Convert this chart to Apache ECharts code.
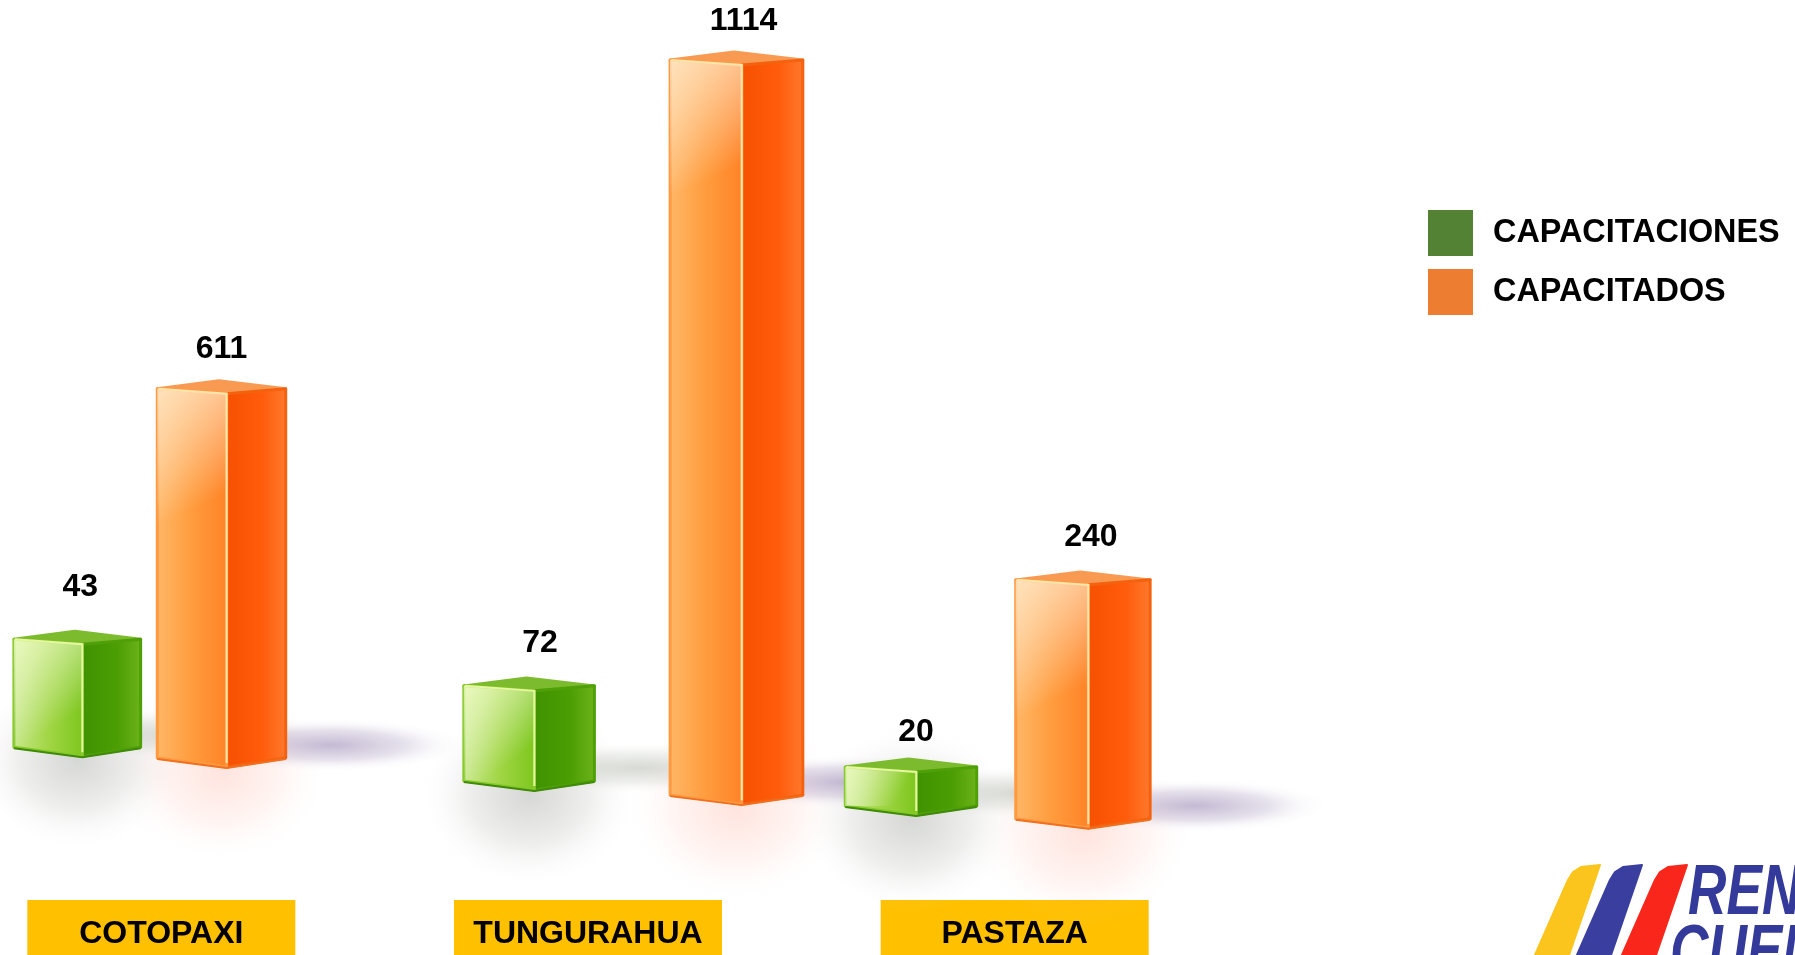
<!DOCTYPE html>
<html lang="es">
<head>
<meta charset="UTF-8">
<title>Capacitaciones y capacitados</title>
<script src="https://cdn.jsdelivr.net/npm/echarts@6/dist/echarts.min.js"></script>
<style>
  html, body { margin: 0; padding: 0; background: #fff; overflow: hidden; }
  #chart { width: 1795px; height: 955px; }
</style>
</head>
<body>
<div id="chart"></div>
<script>
// Printed values
const provinces = ['COTOPAXI', 'TUNGURAHUA', 'PASTAZA'];
const capacitaciones = [43, 72, 20];
const capacitados = [611, 1114, 240];

// The boxes in the picture are perspective art, not to scale: these are the extents
// on a hidden axis where the 1114 box is true to its value
const capacitacionesFloor = [213, 163, 126];
const capacitacionesTop = [398, 329, 209];
const capacitadosFloor = [197, 142, 107];
const capacitadosTop = [769, 1256, 486];

// Layout, as fractions of a category band
const greenShift = [-0.197, -0.138, -0.243];
const orangeShift = [0.141, 0.348, 0.16];
const greenWidth = [0.297, 0.306, 0.308];
const orangeWidth = [0.301, 0.311, 0.315];
const greenLabelGap = [44, 35, 27];
const orangeLabelGap = [32, 31, 35];
const greenLabelShift = [3, 11, 5];
const orangeLabelShift = [0, 7, 8];

const FONT = '"Liberation Sans", Arial, sans-serif';

const linear = (x, y, x2, y2, stops) => ({
  type: 'linear', x, y, x2, y2,
  colorStops: stops.map(([offset, color]) => ({ offset, color }))
});
const soft = (color, fade) => ({
  type: 'radial', x: 0.5, y: 0.5, r: 0.5,
  colorStops: [{ offset: 0, color }, { offset: 0.55, color: fade }, { offset: 1, color: 'rgba(255,255,255,0)' }]
});

const greenLook = {
  top: '#7DBB2E',
  rim: '#E6F7A0',
  edge: '#3F8A08',
  frontLine: '#86C92A',
  sideLine: '#4FA008',
  front: [[0, '#C8E88A'], [0.5, '#A2D646'], [1, '#7CC61C']],
  shine: 'rgba(245,255,205,0.75)',
  side: [[0, '#3F9200'], [0.6, '#4C9E04'], [1, '#6DB41A']],
  glow: soft('rgba(120,125,115,0.30)', 'rgba(120,125,115,0.12)'),
  cast: soft('rgba(110,120,100,0.28)', 'rgba(110,120,100,0.10)')
};
const orangeLook = {
  top: '#F99A52',
  rim: '#FFE6A8',
  edge: '#F0701E',
  frontLine: '#FF9A40',
  sideLine: '#F5620F',
  front: [[0, '#FFB868'], [0.5, '#FF9C3E'], [1, '#FF8226']],
  shine: 'rgba(255,240,215,0.75)',
  side: [[0, '#F65000'], [0.6, '#FF5C0C'], [1, '#FF7A2E']],
  glow: soft('rgba(255,120,90,0.20)', 'rgba(255,120,90,0.08)'),
  cast: soft('rgba(115,90,150,0.42)', 'rgba(115,90,150,0.18)')
};

function boxRenderer(shift, width, labelGap, labelShift, look) {
  return function (params, api) {
    const i = api.value(0);
    const band = api.size([1, 0])[0];
    const floor = api.coord([i, api.value(1)]);
    const top = api.coord([i, api.value(2)]);
    const w = width[i] * band;
    const x0 = floor[0] + shift[i] * band - w / 2;
    const x1 = x0 + w;
    const split = x0 + w * 0.54;
    const mid = x0 + w * 0.48;
    const yTop = top[1];
    const yBottom = floor[1];
    const cornerY = yTop + 8;
    const frontY = yTop + 13;
    const lowY = yBottom - 9;
    const shineBottom = Math.min(cornerY + 150, lowY);

    return {
      type: 'group',
      children: [
        { // faint reflection on the floor
          type: 'circle',
          x: x0 + w / 2,
          y: yBottom + 4,
          scaleY: 0.85,
          shape: { cx: 0, cy: 0, r: w * 0.85 },
          style: { fill: look.glow },
          z2: 1
        },
        { // cast shadow to the right
          type: 'circle',
          x: x1 + 45,
          y: yBottom - 22,
          scaleY: 0.2,
          shape: { cx: 0, cy: 0, r: 135 },
          style: { fill: look.cast },
          z2: 2
        },
        {
          type: 'polygon',
          shape: { points: [[x0, cornerY], [mid, yTop], [x1, cornerY], [split, frontY]] },
          style: { fill: look.top, stroke: look.top, lineWidth: 3, lineJoin: 'round' },
          z2: 10
        },
        {
          type: 'polygon',
          shape: { points: [[split, frontY], [x1, cornerY], [x1, lowY], [split, yBottom]] },
          style: { fill: linear(0, 0, 1, 0, look.side), stroke: look.sideLine, lineWidth: 3, lineJoin: 'round' },
          z2: 10
        },
        {
          type: 'polygon',
          shape: { points: [[x0, cornerY], [split, frontY], [split, yBottom], [x0, lowY]] },
          style: { fill: linear(0, 0, 1, 0, look.front), stroke: look.frontLine, lineWidth: 3, lineJoin: 'round' },
          z2: 10
        },
        { // light falling on the upper left of the front face
          type: 'polygon',
          shape: { points: [[x0, cornerY], [split, frontY], [split, shineBottom], [x0, shineBottom]] },
          style: { fill: linear(0, 0, 0.75, 0.75, [[0, look.shine], [1, 'rgba(255,255,255,0)']]) },
          z2: 11
        },
        { // darker line under the box
          type: 'polyline',
          shape: { points: [[x0, lowY + 1], [split, yBottom + 1], [x1, lowY + 1]] },
          style: { fill: 'none', stroke: look.edge, lineWidth: 2, lineJoin: 'round' },
          z2: 12
        },
        { // bright rim along the front face
          type: 'polyline',
          shape: { points: [[x0 + 1, cornerY], [split, frontY], [split, yBottom - 4]] },
          style: { fill: 'none', stroke: look.rim, lineWidth: 2 },
          z2: 12
        },
        {
          type: 'text',
          style: {
            text: String(api.value(3)),
            x: x0 + w / 2 + labelShift[i],
            y: yTop - labelGap[i],
            fill: '#000',
            font: 'bold 32px ' + FONT,
            align: 'center',
            verticalAlign: 'middle'
          },
          z2: 20
        }
      ]
    };
  };
}

const rows = (floors, tops, values) => provinces.map((name, i) => [i, floors[i], tops[i], values[i]]);

// one slanted logo stripe, rounded at its top end
const stripe = (x, fill) => ({
  type: 'polygon',
  shape: { points: [[x, 955], [x + 33, 880], [x + 38, 872], [x + 46, 867], [x + 65, 865], [x + 34, 955]] },
  style: { fill, stroke: fill, lineWidth: 2, lineJoin: 'round' }
});

const chart = echarts.init(document.getElementById('chart'));
chart.setOption({
  animation: false,
  backgroundColor: '#fff',
  grid: { left: -52, top: 0, width: 1280, height: 900, outerBoundsMode: 'none' },
  xAxis: {
    type: 'category',
    data: provinces,
    axisLine: { show: false },
    axisTick: { show: false },
    axisLabel: {
      margin: 0,
      width: 268,
      height: 55,
      lineHeight: 68,
      align: 'center',
      verticalAlign: 'top',
      backgroundColor: '#FFC000',
      color: '#000',
      fontFamily: FONT,
      fontWeight: 'bold',
      fontSize: 32
    }
  },
  yAxis: { type: 'value', min: 0, max: 1333, show: false },
  legend: {
    orient: 'vertical',
    left: 1428,
    top: 210,
    padding: 0,
    itemWidth: 45,
    itemHeight: 46,
    itemGap: 13,
    selectedMode: false,
    icon: 'rect',
    textStyle: { color: '#000', fontFamily: FONT, fontWeight: 'bold', fontSize: 32.4, padding: [0, 0, 0, 15] },
    data: ['CAPACITACIONES', 'CAPACITADOS']
  },
  series: [
    {
      name: 'CAPACITACIONES',
      type: 'custom',
      clip: false,
      itemStyle: { color: '#548235' },
      renderItem: boxRenderer(greenShift, greenWidth, greenLabelGap, greenLabelShift, greenLook),
      data: rows(capacitacionesFloor, capacitacionesTop, capacitaciones)
    },
    {
      name: 'CAPACITADOS',
      type: 'custom',
      clip: false,
      itemStyle: { color: '#ED7D31' },
      renderItem: boxRenderer(orangeShift, orangeWidth, orangeLabelGap, orangeLabelShift, orangeLook),
      data: rows(capacitadosFloor, capacitadosTop, capacitados)
    }
  ],
  // logo in the corner, cut off by the page edge like the reference
  graphic: [
    stripe(1535, '#FBC51E'),
    stripe(1577, '#3A3F9F'),
    stripe(1622, '#F9271B'),
    { type: 'text', x: 1688, y: 860, scaleX: 0.76, style: { text: 'REN', fill: '#333A9A', font: 'italic bold 70px ' + FONT } },
    { type: 'text', x: 1670, y: 920, scaleX: 0.76, style: { text: 'CUEN', fill: '#333A9A', font: 'italic bold 70px ' + FONT } }
  ]
});
</script>
</body>
</html>
